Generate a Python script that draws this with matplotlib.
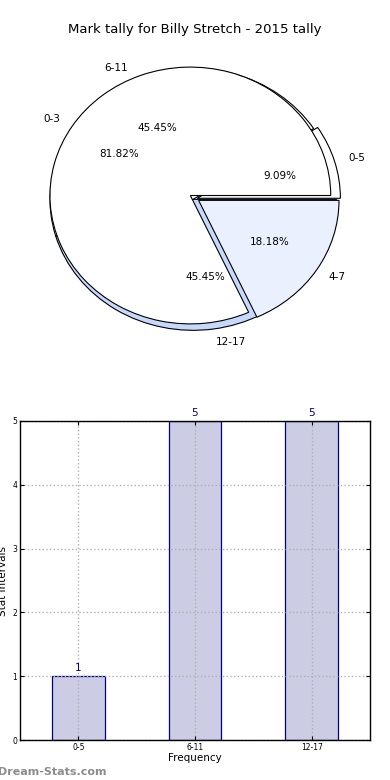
import matplotlib
matplotlib.use('Agg')
import matplotlib.pyplot as plt

# tally data
intervals = ['0-5', '6-11', '12-17']
counts = [1, 5, 5]
# second (overlaid) pie
marks = ['0-3', '4-7']
mark_counts = [9, 2]

fig = plt.figure(figsize=(3.9, 7.8), dpi=100)

fig.text(0.5, 1 - 30 / 780, 'Mark tally for Billy Stretch - 2015 tally',
         ha='center', va='center', fontsize=9.5)

# pie part
ax = fig.add_axes([7.85 / 390, 424 / 780, 365 / 390, 321 / 780])
wp = {'edgecolor': 'black', 'linewidth': 0.8}
ax.pie(counts, labels=intervals, autopct='%.2f%%', explode=[0.03, 0, 0],
       colors=['white', 'white', '#c6d9fd'], center=(0.02, -0.03), radius=1.02,
       shadow={'ox': -2.5, 'oy': -2.5}, wedgeprops=wp,
       textprops={'fontsize': 7.5})
ax.pie(mark_counts, labels=marks, autopct='%.2f%%', explode=[0, 0.07],
       colors=['white', '#eaf0fe'],
       shadow={'ox': -2.5, 'oy': -2.5}, wedgeprops=wp,
       textprops={'fontsize': 7.5})
ax.set_aspect('auto')
ax.set_xlim(-1.3, 1.3)
ax.set_ylim(-1.25, 1.25)
ax.axis('off')

# bar part
ax2 = fig.add_axes([20 / 390, 40 / 780, 350 / 390, 319 / 780])
x = range(len(intervals))
bars = ax2.bar(x, counts, width=0.45, color='#cccde4', edgecolor='navy', linewidth=0.9)
for i, c in enumerate(counts):
    ax2.text(i, c + 0.05, str(c), ha='center', va='bottom', color='navy', fontsize=7.5)
ax2.set_xlim(-0.5, 2.5)
ax2.set_ylim(0, 5)
ax2.set_xticks(list(x))
ax2.set_xticklabels(intervals)
ax2.set_yticks([0, 1, 2, 3, 4, 5])
ax2.tick_params(direction='in', top=True, right=True, length=3, labelsize=5.5, pad=2)
ax2.set_axisbelow('line')
ax2.grid(True, linestyle=':', color='#b0b0b0', linewidth=1)
ax2.set_xlabel('Frequency', fontsize=7.5, labelpad=1)
ax2.set_ylabel('Stat Intervals', fontsize=7.5, labelpad=3)
for s in ax2.spines.values():
    s.set_linewidth(1)
    s.set_zorder(3)

fig.text(-0.005, 8 / 780, 'Dream-Stats.com', color='#8c8c8c', fontsize=8,
         fontweight='bold', ha='left', va='center')

fig.savefig('out.png', dpi=100)
